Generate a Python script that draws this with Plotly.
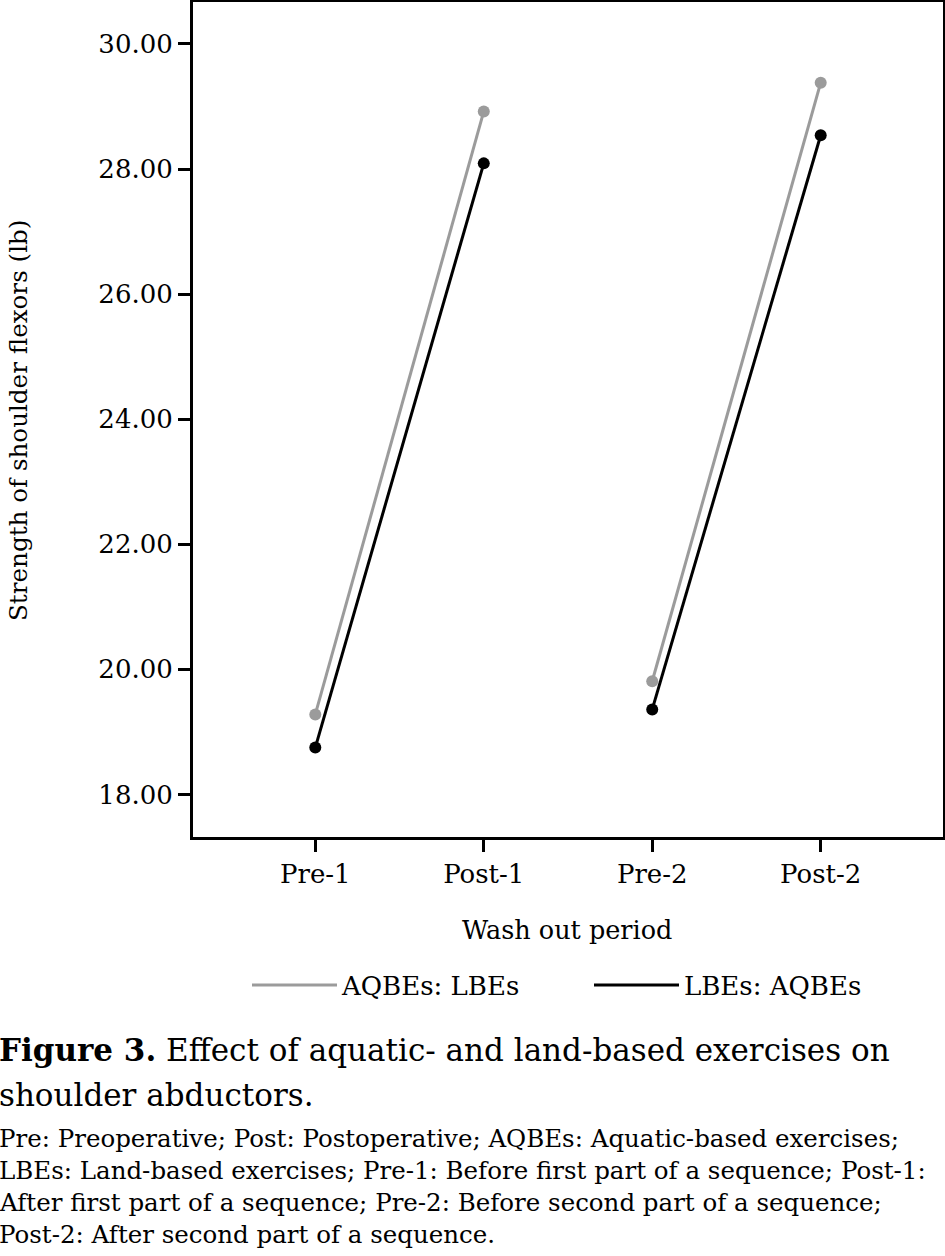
import plotly.graph_objects as go

categories = ["Pre-1", "Post-1", "Pre-2", "Post-2"]
series_names = ["AQBEs: LBEs", "LBEs: AQBEs"]
aqbes_lbes = [19.28, 28.92, 19.81, 29.38]
lbes_aqbes = [18.75, 28.09, 19.36, 28.54]
series_values = [aqbes_lbes, lbes_aqbes]
series_colors = ["#9b9b9b", "#000000"]
y_tick_vals = [18, 20, 22, 24, 26, 28, 30]
y_tick_text = ["%.2f" % v for v in y_tick_vals]

W, H = 945, 1256
ML, MR, MT, MB = 193, 2, 2, 419
PH = H - MT - MB
PW = W - ML - MR

def py(px):
    return (H - MB - px) / PH

def pxx(px):
    return (px - ML) / PW

FONT = "DejaVu Serif"

fig = go.Figure()
xs = list(range(len(categories)))
for name, vals, col in zip(series_names, series_values, series_colors):
    # segments Pre->Post within each part of the sequence
    lx, ly = [], []
    for i in range(0, len(categories), 2):
        lx += [xs[i], xs[i + 1], None]
        ly += [vals[i], vals[i + 1], None]
    fig.add_trace(go.Scatter(x=lx, y=ly, mode="lines", name=name,
                             line=dict(color=col, width=3), legendgroup=name))
    fig.add_trace(go.Scatter(x=xs, y=vals, mode="markers", name=name,
                             marker=dict(color=col, size=12), showlegend=False,
                             legendgroup=name))

axis_common = dict(showline=True, linecolor="black", linewidth=3, mirror=True,
                   ticks="outside", ticklen=12, tickwidth=2.5, tickcolor="black",
                   showgrid=False, zeroline=False,
                   tickfont=dict(family=FONT, size=26, color="black"))
fig.update_xaxes(range=[-0.726, 3.726], tickvals=xs, ticktext=categories, **axis_common)
fig.update_yaxes(range=[17.32, 30.67], tickvals=y_tick_vals, ticktext=y_tick_text, **axis_common)

CAP_X = pxx(-3)
ann = []
ann.append(dict(text="Strength of shoulder flexors (lb)", x=pxx(19), y=py(421), xref="paper", yref="paper",
                textangle=-90, showarrow=False, xanchor="center", yanchor="middle",
                font=dict(family=FONT, size=24.6, color="black")))
ann.append(dict(text="Wash out period", x=pxx(567), y=py(930), xref="paper", yref="paper",
                showarrow=False, xanchor="center", yanchor="middle",
                font=dict(family=FONT, size=25.5, color="black")))
ann.append(dict(text="<b>Figure 3.</b> Effect of aquatic- and land-based exercises on", x=CAP_X, y=py(1050),
                xref="paper", yref="paper", showarrow=False, xanchor="left", yanchor="middle",
                font=dict(family=FONT, size=31, color="black")))
ann.append(dict(text="shoulder abductors.", x=CAP_X, y=py(1095),
                xref="paper", yref="paper", showarrow=False, xanchor="left", yanchor="middle",
                font=dict(family=FONT, size=31, color="black")))
small_lines = [
    "Pre: Preoperative; Post: Postoperative; AQBEs: Aquatic-based exercises;",
    "LBEs: Land-based exercises; Pre-1: Before first part of a sequence; Post-1:",
    "After first part of a sequence; Pre-2: Before second part of a sequence;",
    "Post-2: After second part of a sequence.",
]
for i, t in enumerate(small_lines):
    ann.append(dict(text=t, x=CAP_X, y=py(1138 + 32 * i), xref="paper", yref="paper",
                    showarrow=False, xanchor="left", yanchor="middle",
                    font=dict(family=FONT, size=24.5, color="black")))

fig.update_layout(
    width=W, height=H,
    margin=dict(l=ML, r=MR, t=MT, b=MB, autoexpand=False),
    paper_bgcolor="white", plot_bgcolor="white",
    font=dict(family=FONT, color="black"),
    legend=dict(orientation="h", x=pxx(247), y=py(985), xanchor="left", yanchor="middle",
                font=dict(family=FONT, size=26, color="black"), itemwidth=85,
                entrywidth=242, entrywidthmode="pixels",
                bgcolor="rgba(0,0,0,0)"),
    annotations=ann,
)
fig.write_html("out.html", config={"displayModeBar": False},
               post_script="document.body.style.margin='0';document.body.style.overflow='hidden';")
